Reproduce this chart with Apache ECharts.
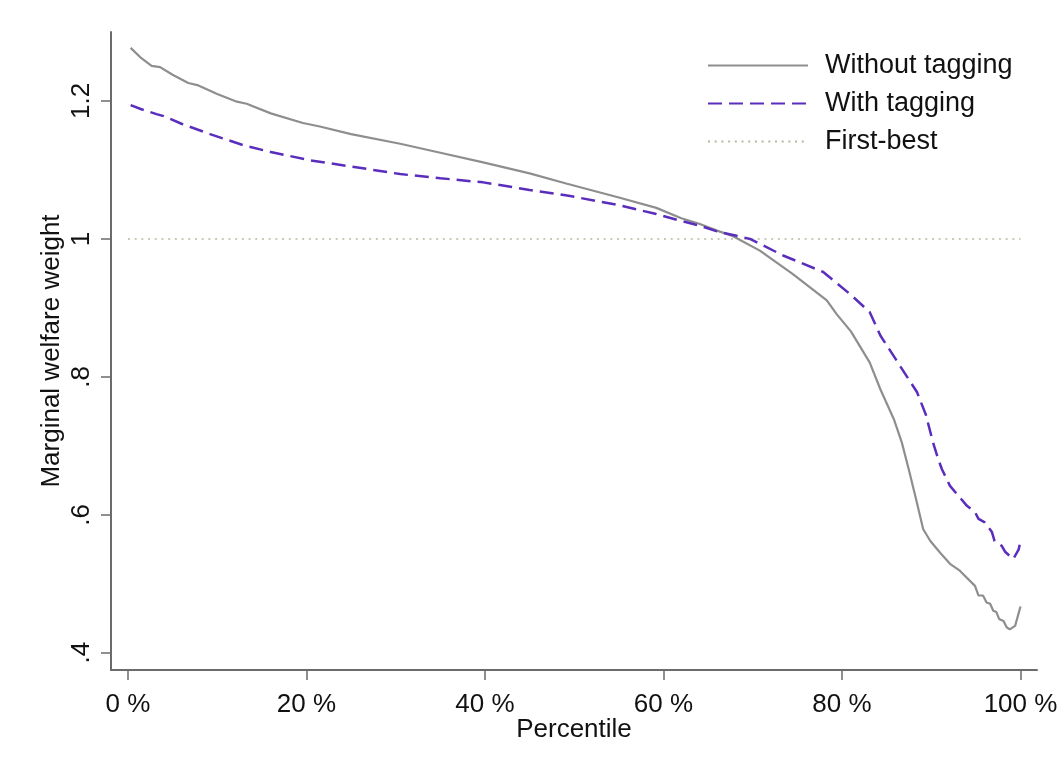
<!DOCTYPE html>
<html>
<head>
<meta charset="utf-8">
<script src="https://cdn.jsdelivr.net/npm/echarts@6/dist/echarts.min.js"></script>
<style>
html,body{margin:0;padding:0;background:#fff;}
#chart{width:1061px;height:772px;}
</style>
</head>
<body>
<div id="chart"></div>
<script>
// ---- data ----
const seriesNames = ['Without tagging', 'With tagging', 'First-best'];

const withoutTagging = [
  [0.3,1.277],[1.5,1.262],[2.65,1.251],[3.6,1.249],[5,1.238],[6.76,1.226],[7.77,1.223],
  [10,1.210],[12.2,1.199],[13.3,1.196],[16,1.182],[19.6,1.168],[21.5,1.163],[25,1.152],
  [30.5,1.138],[35,1.125],[39.8,1.111],[45,1.095],[49.2,1.080],[55,1.060],[59.2,1.045],
  [62,1.030],[64,1.022],[66,1.012],[67.8,1.004],[70.8,0.983],[74.5,0.949],[78.3,0.911],
  [79.4,0.891],[81,0.866],[83.1,0.821],[84.3,0.782],[85.8,0.739],[86.7,0.705],[87.5,0.665],
  [88.2,0.628],[89.1,0.579],[89.9,0.562],[91,0.545],[92.1,0.529],[93.2,0.519],[94.9,0.497],
  [95.3,0.483],[95.8,0.483],[96.2,0.473],[96.6,0.471],[96.95,0.461],[97.3,0.459],[97.6,0.449],
  [98.1,0.446],[98.45,0.437],[98.8,0.434],[99.4,0.439],[100,0.467]
];

const withTagging = [
  [0.3,1.194],[1.5,1.188],[3.2,1.181],[4,1.178],[6,1.167],[9.2,1.152],[12.9,1.136],
  [16,1.126],[20.4,1.114],[25,1.105],[30.5,1.094],[35,1.088],[39.8,1.082],[45,1.071],
  [49.2,1.063],[55,1.049],[59.2,1.036],[62,1.026],[64.1,1.019],[66,1.011],[69.7,1.000],
  [73.4,0.976],[77.9,0.952],[80.9,0.920],[83.1,0.894],[84.3,0.860],[86.5,0.816],[88.4,0.778],
  [89.4,0.745],[90.2,0.705],[90.8,0.680],[91.2,0.666],[92.1,0.642],[94.0,0.613],[94.9,0.604],
  [95.3,0.594],[96.0,0.589],[96.8,0.575],[97.1,0.562],[97.9,0.555],[98.3,0.546],[99.2,0.536],
  [99.8,0.550],[100,0.562]
];

const firstBest = [[0,1],[100,1]];

const xTickValues = [0, 20, 40, 60, 80, 100];
const xTickLabels = ['0 %', '20 %', '40 %', '60 %', '80 %', '100 %'];
const yTickValues = [0.4, 0.6, 0.8, 1, 1.2];
const yTickLabels = ['.4', '.6', '.8', '1', '1.2'];

// ---- chart ----
const FONT = 'Liberation Sans, Arial, sans-serif';
const AXIS_COLOR = '#6b6b6b';
const chart = echarts.init(document.getElementById('chart'), null, {renderer: 'canvas'});

function lookup(vals, labels) {
  return function (v) {
    for (let i = 0; i < vals.length; i++) {
      if (Math.abs(vals[i] - v) < 1e-6) return labels[i];
    }
    return '';
  };
}

chart.setOption({
  animation: false,
  backgroundColor: '#ffffff',
  grid: {left: 111, right: 24, top: 32, bottom: 102, containLabel: false},
  legend: {
    orient: 'vertical',
    left: 702,
    top: 47,
    itemWidth: 100,
    itemHeight: 20,
    itemGap: 11,
    data: seriesNames,
    itemStyle: {opacity: 0},
    textStyle: {fontSize: 27, fontFamily: FONT, color: '#111', padding: [0, 0, 0, 12]},
    selectedMode: false
  },
  xAxis: {
    type: 'value',
    min: -1.9,
    max: 101.85,
    name: 'Percentile',
    nameLocation: 'middle',
    nameGap: 47,
    nameMoveOverlap: false,
    nameTextStyle: {fontSize: 26, fontFamily: FONT, color: '#111'},
    axisLine: {show: true, onZero: false, lineStyle: {color: AXIS_COLOR, width: 2}},
    axisTick: {show: true, customValues: xTickValues, length: 10, lineStyle: {color: AXIS_COLOR, width: 1.5}},
    axisLabel: {customValues: xTickValues, formatter: lookup(xTickValues, xTickLabels),
      fontSize: 26, fontFamily: FONT, color: '#111', margin: 22},
    splitLine: {show: false}
  },
  yAxis: {
    type: 'value',
    min: 0.375,
    max: 1.3,
    name: 'Marginal welfare weight',
    nameLocation: 'middle',
    nameRotate: 90,
    nameGap: 46,
    nameMoveOverlap: false,
    nameTextStyle: {fontSize: 26, fontFamily: FONT, color: '#111'},
    axisLine: {show: true, onZero: false, lineStyle: {color: AXIS_COLOR, width: 2}},
    axisTick: {show: true, customValues: yTickValues, length: 10, lineStyle: {color: AXIS_COLOR, width: 1.5}},
    axisLabel: {customValues: yTickValues, formatter: lookup(yTickValues, yTickLabels),
      rotate: 90, fontSize: 26, fontFamily: FONT, color: '#111', margin: 16},
    splitLine: {show: false}
  },
  series: [
    {
      name: seriesNames[0], type: 'line', data: withoutTagging, symbol: 'none', showSymbol: false,
      lineStyle: {color: '#8e8e8e', width: 2.2}, itemStyle: {color: '#8e8e8e'}, z: 3
    },
    {
      name: seriesNames[1], type: 'line', data: withTagging, symbol: 'none', showSymbol: false,
      lineStyle: {color: '#5a2dbd', width: 2.5, type: [14, 7]}, itemStyle: {color: '#5a2dbd'}, z: 4
    },
    {
      name: seriesNames[2], type: 'line', data: firstBest, symbol: 'none', showSymbol: false,
      lineStyle: {color: '#b3bb9f', width: 1.5, type: [2, 4.7]}, itemStyle: {color: '#b3bb9f'}, z: 2
    }
  ]
});
</script>
</body>
</html>
